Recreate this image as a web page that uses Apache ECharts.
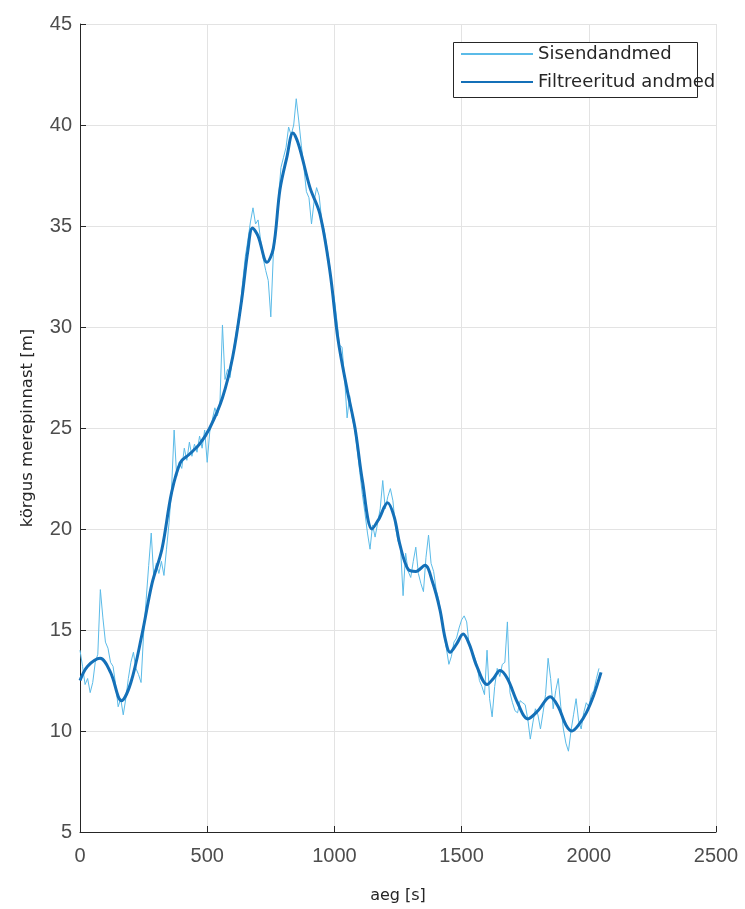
<!DOCTYPE html>
<html>
<head>
<meta charset="utf-8">
<script src="https://cdn.jsdelivr.net/npm/echarts@6/dist/echarts.min.js"></script>
<style>
  html, body { margin: 0; padding: 0; background: #ffffff; }
  #chart { width: 745px; height: 909px; }
</style>
</head>
<body>
<div id="chart"></div>
<script>
// Raw altitude samples, one every 10 s
const rawStart = 0;
const rawStep = 10;
const rawValues = [
  14.0, 13.2, 12.3, 12.6, 11.9, 12.4, 13.4, 13.8, 17.0, 15.6,
  14.4, 14.1, 13.4, 13.2, 12.3, 11.2, 11.6, 10.8, 11.6, 12.6,
  13.4, 13.9, 13.1, 12.8, 12.4, 14.8, 16.5, 18.2, 19.8, 17.6,
  18.3, 17.8, 18.4, 17.7, 19.0, 20.3, 22.0, 24.9, 22.6, 23.3,
  23.0, 24.0, 23.4, 24.3, 23.6, 24.2, 23.8, 24.6, 24.0, 24.9,
  23.3, 24.8, 25.4, 26.0, 25.6, 26.2, 30.1, 27.4, 27.9, 27.5,
  28.6, 29.4, 30.2, 31.0, 32.3, 33.5, 34.3, 35.2, 35.9, 35.1,
  35.3, 34.3, 33.4, 32.8, 32.3, 30.5, 33.6, 35.0, 36.4, 37.9,
  38.4, 38.9, 39.9, 39.5, 40.0, 41.3, 40.2, 39.0, 37.9, 36.7,
  36.4, 35.1, 36.2, 36.9, 36.5, 35.3, 34.8, 34.0, 33.2, 32.0,
  31.4, 30.3, 29.1, 29.0, 27.5, 25.5, 26.6, 25.5, 24.9, 23.9,
  22.8, 21.7, 20.8, 19.8, 19.0, 20.2, 19.6, 20.3, 21.0, 22.4,
  21.0, 21.6, 22.0, 21.4, 20.1, 19.4, 19.1, 16.7, 18.8, 17.9,
  17.6, 18.4, 19.1, 17.8, 17.3, 16.9, 18.6, 19.7, 18.3, 17.9,
  17.0, 16.5, 15.7, 14.8, 14.1, 13.3, 13.7, 14.4, 14.6, 15.1,
  15.5, 15.7, 15.4, 14.2, 13.9, 13.7, 13.3, 12.5, 12.2, 11.8,
  14.0, 11.6, 10.7, 12.2, 13.1, 12.7, 13.3, 13.4, 15.4, 11.9,
  11.4, 11.0, 10.9, 11.5, 11.4, 11.3, 10.6, 9.6, 10.4, 11.1,
  10.8, 10.1, 10.9, 11.8, 13.6, 12.6, 11.1, 12.0, 12.6, 11.2,
  10.1, 9.4, 9.0, 10.0, 10.8, 11.6, 10.5, 10.1, 10.9, 11.4,
  11.2, 11.8, 12.0, 12.6, 13.1
];

// Filtered altitude, sampled at irregular times (s)
const filteredTimes = [
  0, 30, 79, 120, 163, 200, 244, 283, 322, 360,
  395, 430, 470, 510, 560, 600, 635, 660, 678, 700,
  735, 760, 786, 813, 837, 860, 904, 943, 983, 1014,
  1050, 1081, 1110, 1148, 1175, 1209, 1235, 1258, 1290, 1320,
  1356, 1385, 1415, 1435, 1455, 1480, 1506, 1530, 1560, 1600,
  1625, 1651, 1680, 1720, 1760, 1800, 1848, 1880, 1910, 1934,
  1960, 1990, 2020, 2048
];
const filteredValues = [
  12.5, 13.2, 13.6, 12.9, 11.5, 12.4, 14.8, 17.3, 19.0, 21.8,
  23.3, 23.7, 24.2, 25.0, 26.5, 28.5, 31.3, 33.8, 34.9, 34.5,
  33.2, 33.9, 36.8, 38.4, 39.6, 39.0, 36.9, 35.6, 32.7, 29.4,
  26.9, 25.0, 22.4, 20.0, 20.5, 21.3, 20.6, 19.2, 18.0, 17.9,
  18.2, 17.4, 16.0, 14.6, 13.9, 14.3, 14.8, 14.3, 13.2, 12.3,
  12.6, 13.0, 12.6, 11.4, 10.6, 11.0, 11.7, 11.2, 10.3, 10.0,
  10.3, 10.9, 11.8, 12.9
];

const seriesNames = ['Sisendandmed', 'Filtreeritud andmed'];
const xTicks = { min: 0, max: 2500, step: 500 };
const yTicks = { min: 5, max: 45, step: 5 };
const xTitle = 'aeg [s]';
const yTitle = 'körgus merepinnast [m]';

const rawData = rawValues.map((v, i) => [rawStart + i * rawStep, v]);
const filteredData = filteredTimes.map((t, i) => [t, filteredValues[i]]);

const chart = echarts.init(document.getElementById('chart'), null, { renderer: 'canvas' });

const axisLabelStyle = {
  color: '#4d4d4d',
  fontFamily: 'Liberation Sans, Arial, sans-serif',
  fontSize: 20,
  formatter: (v) => String(v)
};

chart.setOption({
  animation: false,
  backgroundColor: '#ffffff',
  grid: { left: 80, right: 29, top: 24, bottom: 76, containLabel: false },
  xAxis: {
    type: 'value',
    min: xTicks.min,
    max: xTicks.max,
    interval: xTicks.step,
    name: xTitle,
    nameLocation: 'middle',
    nameGap: 56,
    nameTextStyle: { color: '#262626', fontFamily: 'DejaVu Sans, sans-serif', fontSize: 16 },
    axisLine: { show: true, lineStyle: { color: '#262626', width: 1 } },
    axisTick: { show: true, inside: true, length: 6, lineStyle: { color: '#262626' } },
    axisLabel: Object.assign({ margin: 14 }, axisLabelStyle),
    splitLine: { show: true, lineStyle: { color: '#e3e3e3', width: 1 } }
  },
  yAxis: {
    type: 'value',
    min: yTicks.min,
    max: yTicks.max,
    interval: yTicks.step,
    name: yTitle,
    nameLocation: 'middle',
    nameGap: 44,
    nameTextStyle: { color: '#262626', fontFamily: 'DejaVu Sans, sans-serif', fontSize: 16.5 },
    axisLine: { show: true, lineStyle: { color: '#262626', width: 1 } },
    axisTick: { show: true, inside: true, length: 6, lineStyle: { color: '#262626' } },
    axisLabel: Object.assign({ margin: 8 }, axisLabelStyle),
    splitLine: { show: true, lineStyle: { color: '#e3e3e3', width: 1 } }
  },
  graphic: [{
    type: 'rect',
    z: 5,
    shape: { x: 453.5, y: 42.5, width: 244, height: 55 },
    style: { fill: '#ffffff', stroke: '#262626', lineWidth: 1 }
  }],
  legend: {
    z: 10,
    orient: 'vertical',
    left: 460,
    top: 44,
    padding: 0,
    itemWidth: 72,
    itemHeight: 14,
    itemGap: 8,
    itemStyle: { opacity: 0 },
    textStyle: { color: '#262626', fontFamily: 'DejaVu Sans, sans-serif', fontSize: 18, lineHeight: 20 },
    data: seriesNames
  },
  series: [
    {
      name: seriesNames[0],
      type: 'line',
      data: rawData,
      symbol: 'none',
      smooth: false,
      lineStyle: { color: '#5bbbe8', width: 1 },
      itemStyle: { color: '#5bbbe8' },
      z: 2
    },
    {
      name: seriesNames[1],
      type: 'line',
      data: filteredData,
      symbol: 'none',
      smooth: 0.35,
      lineStyle: { color: '#1470b8', width: 3 },
      itemStyle: { color: '#1470b8' },
      z: 3
    }
  ]
});
</script>
</body>
</html>
